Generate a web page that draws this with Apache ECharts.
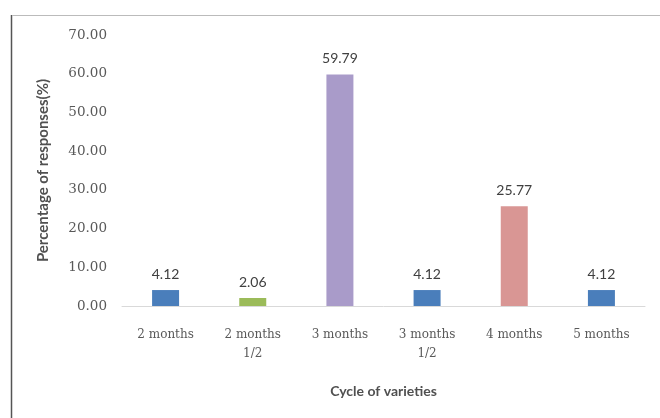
<!DOCTYPE html>
<html>
<head>
<meta charset="utf-8">
<script src="https://cdn.jsdelivr.net/npm/echarts@6/dist/echarts.min.js"></script>
<style>html,body{margin:0;padding:0;background:#fff;}#c{width:660px;height:418px;}</style>
</head>
<body>
<div id="c"></div>
<script>
const categories = ['2 months', '2 months\n1/2', '3 months', '3 months\n1/2', '4 months', '5 months'];
const values = [4.12, 2.06, 59.79, 4.12, 25.77, 4.12];
const barColors = ['#4A7EBB', '#9BBB59', '#A99BC9', '#4A7EBB', '#D99694', '#4A7EBB'];
const yTicks = [0, 10, 20, 30, 40, 50, 60, 70];
const xTitle = 'Cycle of varieties';
const yTitle = 'Percentage of responses(%)';

const chart = echarts.init(document.getElementById('c'), null, {renderer: 'canvas'});
chart.setOption({
  backgroundColor: '#fff',
  animation: false,
  grid: {left: 122, right: 15, top: 35, bottom: 112, containLabel: false},
  graphic: [
    {type: 'line', shape: {x1: 11.5, y1: 15, x2: 11.5, y2: 418}, style: {stroke: '#555', lineWidth: 1.5}},
    {type: 'line', shape: {x1: 12, y1: 15.5, x2: 660, y2: 15.5}, style: {stroke: '#bbb', lineWidth: 1}}
  ],
  xAxis: {
    type: 'category',
    data: categories,
    axisTick: {show: false},
    axisLine: {lineStyle: {color: '#d9d9d9'}},
    axisLabel: {fontFamily: 'DejaVu Serif', fontSize: 12, color: '#595959', margin: 19, lineHeight: 19},
    name: xTitle,
    nameLocation: 'middle',
    nameGap: 78,
    nameTextStyle: {fontFamily: 'Lato', fontSize: 14, fontWeight: 'bold', color: '#505050'}
  },
  yAxis: {
    type: 'value',
    min: yTicks[0],
    max: yTicks[yTicks.length - 1],
    interval: 10,
    splitLine: {show: false},
    axisLine: {show: false},
    axisTick: {show: false},
    axisLabel: {fontFamily: 'DejaVu Serif', fontSize: 13.5, color: '#595959', margin: 15,
      formatter: v => v.toFixed(2)},
    name: yTitle,
    nameLocation: 'middle',
    nameGap: 71,
    nameTextStyle: {fontFamily: 'Lato', fontSize: 15, fontWeight: 'bold', color: '#505050'}
  },
  series: [{
    type: 'bar',
    data: values.map((v, i) => ({value: v, itemStyle: {color: barColors[i]}})),
    barWidth: 27,
    label: {show: true, position: 'top', distance: 9, fontFamily: 'Lato', fontSize: 14,
      color: '#404040', formatter: p => p.value.toFixed(2)}
  }]
});
</script>
</body>
</html>
